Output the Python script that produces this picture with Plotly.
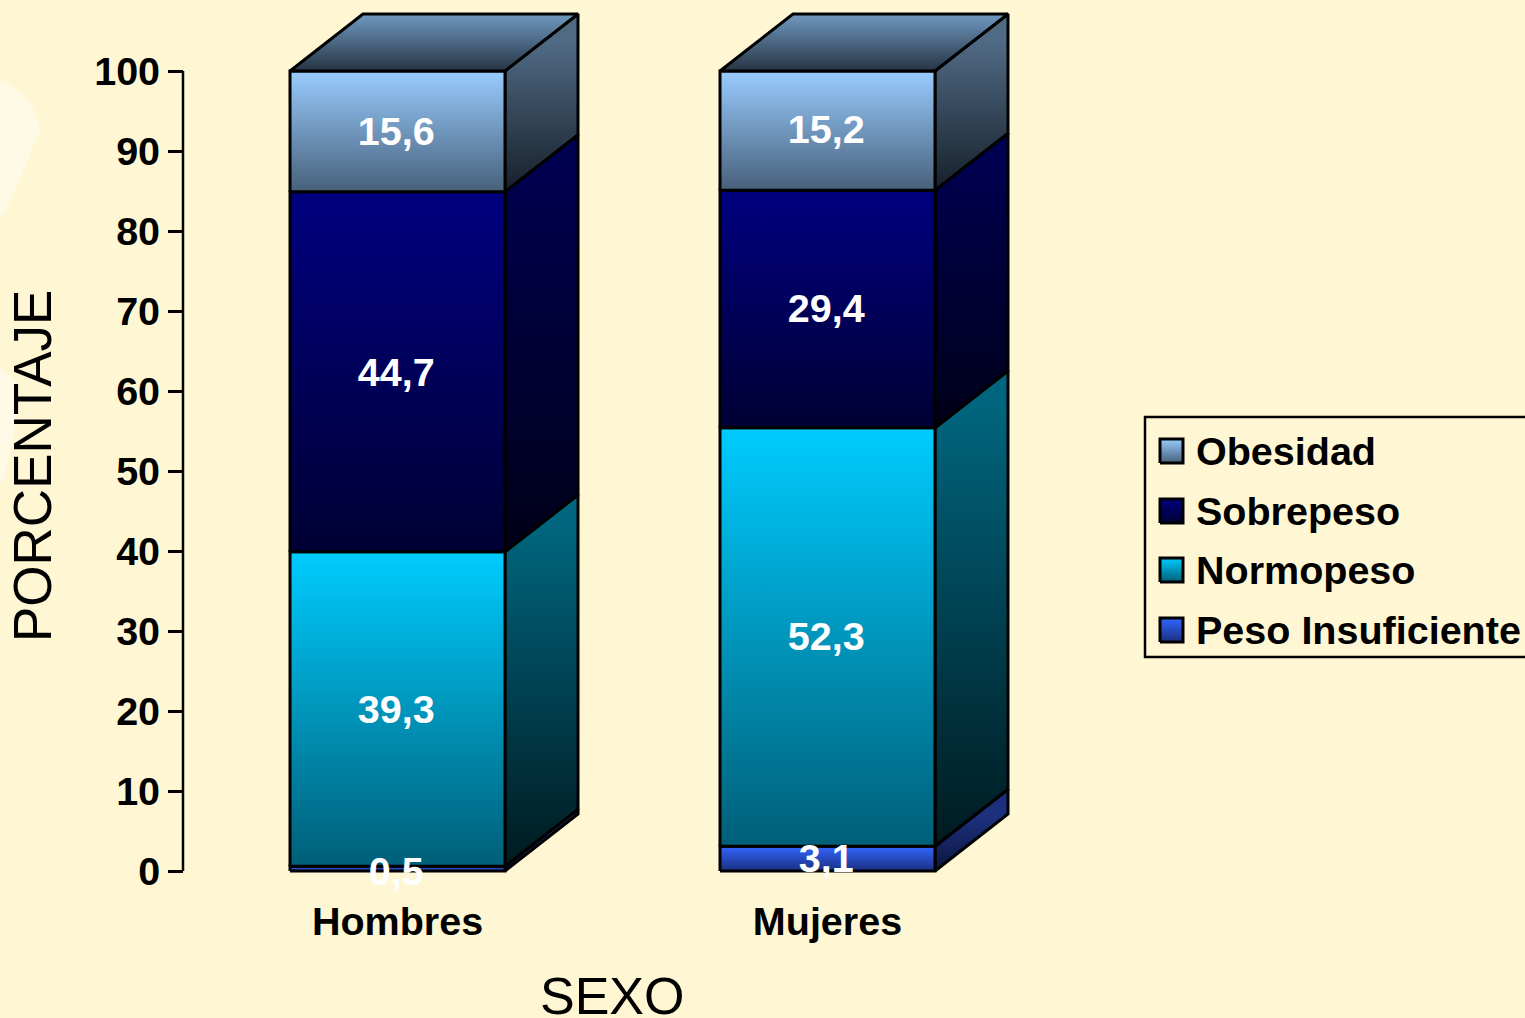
import plotly.graph_objects as go

categories = ["Hombres", "Mujeres"]
series_names = ["Peso Insuficiente", "Normopeso", "Sobrepeso", "Obesidad"]
hombres_heights = [0.6, 39.3, 45.0, 15.1]
mujeres_heights = [3.1, 52.3, 29.7, 14.9]
hombres_labels = ["0,5", "39,3", "44,7", "15,6"]
mujeres_labels = ["3,1", "52,3", "29,4", "15,2"]
hombres_label_y = [-0.5, 19.7, 61.8, 91.95]
mujeres_label_y = [1.1, 28.85, 69.9, 92.2]
legend_order = ["Obesidad", "Sobrepeso", "Normopeso", "Peso Insuficiente"]
y_ticks = [0, 10, 20, 30, 40, 50, 60, 70, 80, 90, 100]

front_colors = {
    "Peso Insuficiente": ("#3366FF", "#1A2F80"),
    "Normopeso": ("#00CCFF", "#005F78"),
    "Sobrepeso": ("#000080", "#000034"),
    "Obesidad": ("#99CCFF", "#47607A"),
}
side_colors = {
    "Peso Insuficiente": ("#1C307C", "#0C1640"),
    "Normopeso": ("#00667F", "#001A20"),
    "Sobrepeso": ("#000050", "#000018"),
    "Obesidad": ("#506A84", "#16202A"),
}
top_colors = ("#7099C0", "#263444")
background = "#FFF7D4"
blob = "#FFFAE6"
W, H = 1525, 1018
CX0, CSTEP = 397.5, 430.0
Y0, YSCALE = 871.0, 8.0
BAR_W = 215.0 / CSTEP
DEPTH_X = 73.0 / CSTEP
DEPTH_Y = 57.0 / YSCALE


def dx(px):
    return (px - CX0) / CSTEP


def dy(py):
    return (Y0 - py) / YSCALE


def poly(xs, ys, top, bottom, stop=None):
    return go.Scatter(
        x=xs + xs[:1], y=ys + ys[:1], mode="lines", fill="toself",
        line=dict(color="#000000", width=3),
        fillgradient=dict(type="vertical", colorscale=[[0, bottom], [1, top]],
                          start=min(ys), stop=max(ys) if stop is None else stop),
        hoverinfo="skip", showlegend=False,
    )


fig = go.Figure()
columns = [(hombres_heights, hombres_labels, hombres_label_y),
           (mujeres_heights, mujeres_labels, mujeres_label_y)]
for i, (heights, labels, label_y) in enumerate(columns):
    l, r = i - BAR_W / 2, i + BAR_W / 2
    base = 0.0
    for name, h in zip(series_names, heights):
        t = base + h
        fig.add_trace(poly([r, r + DEPTH_X, r + DEPTH_X, r],
                           [base, base + DEPTH_Y, t + DEPTH_Y, t], *side_colors[name],
                           stop=t + DEPTH_Y / 2))
        fig.add_trace(poly([l, r, r, l], [base, base, t, t], *front_colors[name]))
        base = t
    fig.add_trace(poly([l, r, r + DEPTH_X, l + DEPTH_X],
                       [base, base, base + DEPTH_Y, base + DEPTH_Y],
                       top_colors[0], top_colors[1]))
    fig.add_trace(go.Scatter(
        x=[i - 0.003] * len(labels), y=label_y, text=labels, mode="text",
        textposition="middle center", cliponaxis=False, hoverinfo="skip", showlegend=False,
        textfont=dict(family="Liberation Sans", size=39.5, color="#FFFFFF", weight="bold"),
    ))

# value-axis line stops at 100
fig.add_trace(go.Scatter(x=[dx(183), dx(183)], y=[y_ticks[0], y_ticks[-1]], mode="lines",
                         line=dict(color="#000000", width=2.5),
                         hoverinfo="skip", showlegend=False))

# legend
legend_rows = [451, 511, 570, 630]
annotations = []
for name, py in zip(legend_order, legend_rows):
    x0, x1, y0, y1 = dx(1160), dx(1183), dy(py - 12), dy(py + 12)
    fig.add_trace(poly([x0, x1, x1, x0], [y1, y1, y0, y0], *front_colors[name]))
    annotations.append(dict(
        x=1194 / W, y=1 - py / H, xref="paper", yref="paper", text=name, showarrow=False,
        xanchor="left", yanchor="middle",
        font=dict(family="Liberation Sans", size=39.5, color="#000000", weight="bold"),
    ))

annotations += [
    dict(x=612 / W, y=1 - 996 / H, xref="paper", yref="paper", text="SEXO", showarrow=False,
         xanchor="center", yanchor="middle",
         font=dict(family="Liberation Sans", size=52, color="#000000")),
    dict(x=33 / W, y=1 - 466 / H, xref="paper", yref="paper", text="PORCENTAJE", showarrow=False,
         textangle=-90, xanchor="center", yanchor="middle",
         font=dict(family="Liberation Sans", size=53, color="#000000")),
]

shapes = [
    dict(type="path", xref="paper", yref="paper", layer="below", line=dict(width=0), fillcolor=blob,
         path="M {} {} L {} {} L {} {} L {} {} L {} {} L {} {} Z".format(
             0, 1 - 80 / H, 13 / W, 1 - 87 / H, 33 / W, 1 - 107 / H, 40 / W, 1 - 131 / H,
             5 / W, 1 - 213 / H, 0, 1 - 218 / H)),
    dict(type="path", xref="paper", yref="paper", layer="below", line=dict(width=0), fillcolor=blob,
         path="M {} {} L {} {} L {} {} L {} {} L {} {} Z".format(
             0, 1 - 368 / H, 18 / W, 1 - 383 / H, 15 / W, 1 - 427 / H, 5 / W, 1 - 477 / H, 0, 1 - 483 / H)),
    dict(type="rect", xref="paper", yref="paper", x0=1145 / W, x1=1.01,
         y0=1 - 657 / H, y1=1 - 417 / H, line=dict(color="#000000", width=2.5)),
]

tick_font = dict(family="Liberation Sans", size=39.5, color="#000000", weight="bold")
fig.update_layout(
    width=W, height=H, autosize=False,
    margin=dict(l=0, r=0, t=0, b=0, pad=0),
    paper_bgcolor=background, plot_bgcolor="rgba(0,0,0,0)",
    showlegend=False, hovermode=False, annotations=annotations, shapes=shapes,
    xaxis=dict(domain=[0, 1], range=[dx(0), dx(W)], anchor="free", position=1 - 894 / H,
               tickmode="array", tickvals=[0, 1], ticktext=categories, showgrid=False,
               zeroline=False, showline=False, ticks="", tickfont=tick_font),
    yaxis=dict(domain=[0, 1], range=[dy(H), dy(0)], anchor="free", position=183 / W,
               tickmode="array", tickvals=y_ticks, showgrid=False, zeroline=False,
               showline=False, ticks="outside", ticklen=15, tickwidth=2.5, tickcolor="#000000",
               tickfont=tick_font),
)
fig.write_html("out.html", config=dict(displayModeBar=False),
               post_script="document.body.style.margin='0';document.body.style.overflow='hidden';"
                           "document.body.style.background='" + background + "';")
